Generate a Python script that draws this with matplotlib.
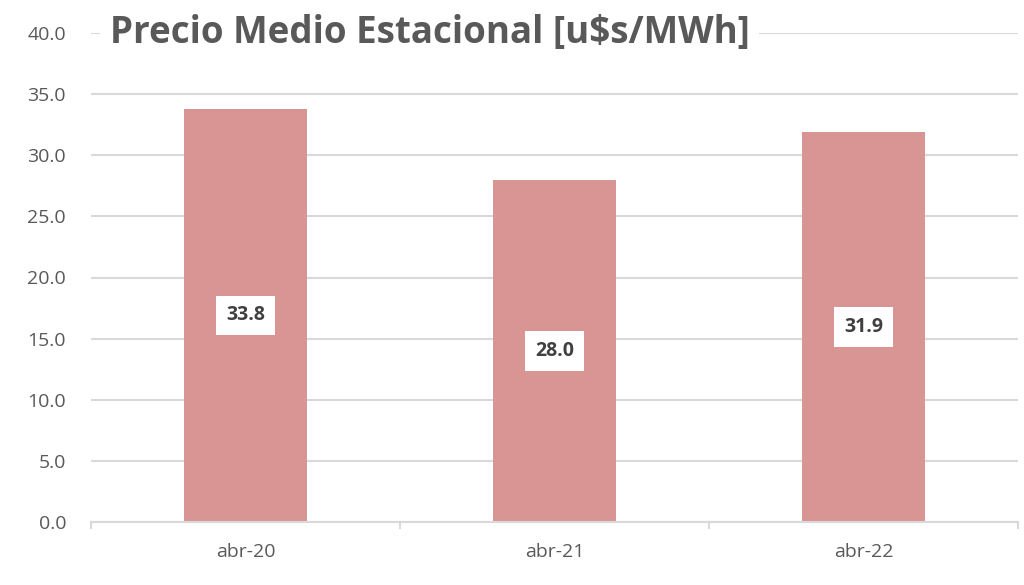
import matplotlib.pyplot as plt

# Datos
categorias = ['abr-20', 'abr-21', 'abr-22']
precios = [33.8, 28.0, 31.9]
yticks = [0, 5, 10, 15, 20, 25, 30, 35, 40]
titulo = 'Precio Medio Estacional [u$s/MWh]'

gris_texto = '#595959'
gris_linea = '#D9D9D9'
color_barra = '#D99594'

fig = plt.figure(figsize=(10.24, 5.85), dpi=100)
ax = fig.add_axes([91 / 1024, 1 - 522 / 585, (1018 - 91) / 1024, (522 - 33) / 585])

x = list(range(len(categorias)))
ax.bar(x, precios, width=0.4, color=color_barra, zorder=2)

ax.set_xlim(-0.5, len(categorias) - 0.5)
ax.set_ylim(0, 40)
ax.set_yticks(yticks)
ax.set_yticklabels([f'{v:.1f}' for v in yticks], fontsize=14, color=gris_texto, family='Open Sans')
ax.set_xticks(x)
ax.set_xticklabels(categorias, fontsize=14, color=gris_texto, family='Open Sans')
ax.tick_params(axis='y', length=0, pad=18)
ax.tick_params(axis='x', length=0, pad=15)

# separadores de categoría en el eje x
for b in [-0.5, 0.5, 1.5, 2.5]:
    ax.plot([b, b], [0, -0.012], transform=ax.get_xaxis_transform(), color=gris_linea,
            lw=1.5, clip_on=False)

ax.grid(axis='y', color=gris_linea, lw=1.5, zorder=0)
ax.set_axisbelow(True)
for s in ['left', 'right', 'top']:
    ax.spines[s].set_visible(False)
ax.spines['bottom'].set_color(gris_linea)
ax.spines['bottom'].set_linewidth(1.5)

# etiquetas de valor
for xi, v in zip(x, precios):
    ax.text(xi, v / 2, f'{v:.1f}', ha='center', va='center', fontsize=14, fontweight='bold',
            color='#404040', family='Open Sans', zorder=3,
            bbox=dict(facecolor='white', edgecolor='none', boxstyle='square,pad=0.5'))

# título sobre la línea de 40
ax.text(-0.44, 40, titulo, ha='left', va='center', fontsize=26.5, fontweight='bold',
        color=gris_texto, family='Open Sans', zorder=4,
        bbox=dict(facecolor='white', edgecolor='none', boxstyle='square,pad=0.25'))

fig.savefig('out.png', dpi=100)
